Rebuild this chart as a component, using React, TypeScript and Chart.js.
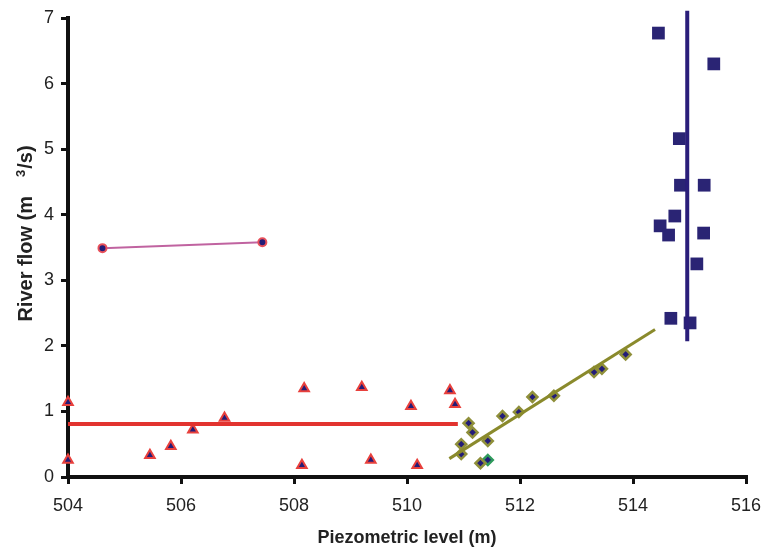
import React, { useEffect, useRef } from "react";
import { Chart, registerables } from "chart.js";

Chart.register(...registerables);

// Triangles (red outline, navy fill)
const triX = [504.0, 504.0, 505.45, 505.82, 506.21, 506.77, 508.18, 508.14, 509.2, 509.36, 510.07, 510.18, 510.76, 510.85];
const triY = [1.14, 0.26, 0.33, 0.47, 0.72, 0.9, 1.35, 0.18, 1.37, 0.26, 1.08, 0.18, 1.32, 1.11];
const triLineX = [504.0, 510.9];
const triLineY = [0.81, 0.81];

// Diamonds (olive outline)
const diaX = [510.96, 510.96, 511.09, 511.16, 511.3, 511.43, 511.69, 511.98, 512.22, 512.6, 513.31, 513.45, 513.87];
const diaY = [0.5, 0.35, 0.82, 0.68, 0.21, 0.55, 0.93, 0.99, 1.22, 1.24, 1.6, 1.65, 1.87];
const greenX = [511.43];
const greenY = [0.26];
const diaLineX = [510.75, 514.39];
const diaLineY = [0.28, 2.25];

// Squares
const sqX = [514.45, 515.43, 514.82, 514.84, 515.26, 514.74, 514.48, 514.63, 515.25, 515.13, 514.67, 515.01];
const sqY = [6.77, 6.3, 5.16, 4.45, 4.45, 3.98, 3.83, 3.69, 3.72, 3.25, 2.42, 2.35];
const sqLineX = [514.96, 514.96];
const sqLineY = [2.07, 7.11];

// Circles
const cirX = [504.61, 507.44];
const cirY = [3.49, 3.58];

const xTicks = [504, 506, 508, 510, 512, 514, 516];
const yTicks = [0, 1, 2, 3, 4, 5, 6, 7];

const yTitleMain = "River flow (m";
const yTitleSup = "3";
const yTitleEnd = "/s)";

const pts = (xs: number[], ys: number[]) => xs.map((x, i) => ({ x, y: ys[i] }));

const yTitlePlugin = {
  id: "yTitle",
  afterDraw(chart: any) {
    const ctx = chart.ctx;
    const area = chart.chartArea;
    ctx.save();
    ctx.fillStyle = "#222";
    ctx.textBaseline = "middle";
    ctx.textAlign = "left";
    const fam = "Liberation Sans, Arial, sans-serif";
    ctx.font = `bold 20px ${fam}`;
    const w1 = ctx.measureText(yTitleMain).width;
    const w3 = ctx.measureText(yTitleEnd).width;
    ctx.font = `bold 13px ${fam}`;
    const w2 = ctx.measureText(yTitleSup).width;
    const gap = 19;
    const total = w1 + gap + w2 + 1 + w3;
    const cy = (area.top + area.bottom) / 2 - 14;
    ctx.translate(26, cy + total / 2);
    ctx.rotate(-Math.PI / 2);
    ctx.font = `bold 20px ${fam}`;
    ctx.fillText(yTitleMain, 0, 0);
    ctx.font = `bold 13px ${fam}`;
    ctx.fillText(yTitleSup, w1 + gap, -5);
    ctx.font = `bold 20px ${fam}`;
    ctx.fillText(yTitleEnd, w1 + gap + w2 + 1, 0);
    ctx.restore();
  },
};

export default function App() {
  const ref = useRef<HTMLCanvasElement>(null);
  useEffect(() => {
    document.body.style.margin = "0";
    const ctx = ref.current!;
    const chart = new Chart(ctx, {
      type: "scatter",
      plugins: [yTitlePlugin],
      data: {
        datasets: [
          {
            type: "line",
            data: pts(triLineX, triLineY),
            borderColor: "#e2332f",
            borderWidth: 4,
            pointRadius: 0,
            showLine: true,
          } as any,
          {
            data: pts(triX, triY),
            pointStyle: "triangle",
            pointRadius: 5.5,
            backgroundColor: "#231c78",
            borderColor: "#e8403c",
            borderWidth: 2,
            clip: false,
          } as any,
          {
            type: "line",
            data: pts(cirX, cirY),
            borderColor: "#c063a0",
            borderWidth: 2,
            pointStyle: "circle",
            pointRadius: 4,
            pointBackgroundColor: "#231c78",
            pointBorderColor: "#e8505a",
            pointBorderWidth: 2,
          } as any,
          {
            type: "line",
            data: pts(diaLineX, diaLineY),
            borderColor: "#8a8a2c",
            borderWidth: 3,
            pointRadius: 0,
          } as any,
          {
            data: pts(diaX, diaY),
            pointStyle: "rectRot",
            pointRadius: 5,
            backgroundColor: "#231c78",
            borderColor: "#8f8f3a",
            borderWidth: 2.5,
          },
          {
            data: pts(greenX, greenY),
            pointStyle: "rectRot",
            pointRadius: 5,
            backgroundColor: "#231c78",
            borderColor: "#2f9a5c",
            borderWidth: 2.5,
          },
          {
            type: "line",
            data: pts(sqLineX, sqLineY),
            borderColor: "#2a1e7a",
            borderWidth: 4,
            pointRadius: 0,
            clip: false,
          } as any,
          {
            data: pts(sqX, sqY),
            pointStyle: "rect",
            pointRadius: 9,
            backgroundColor: "#2a2474",
            borderColor: "#2a2474",
            borderWidth: 0,
          },
          {
            data: pts(sqX, sqY),
            pointStyle: "crossRot",
            pointRadius: 3.5,
            backgroundColor: "#5868c0",
            borderColor: "#5868c0",
            borderWidth: 1.5,
          },
        ],
      },
      options: {
        responsive: false,
        animation: false,
        events: [],
        layout: { padding: { top: 18, right: 0, left: 0, bottom: 0 } },
        plugins: { legend: { display: false }, tooltip: { enabled: false } },
        scales: {
          x: {
            type: "linear",
            min: 504,
            max: 516,
            afterBuildTicks: (s: any) => {
              s.ticks = xTicks.map((v) => ({ value: v }));
            },
            afterFit: (s: any) => {
              s.height = 77;
              s.paddingRight = 15;
              s.paddingLeft = 0;
            },
            ticks: {
              color: "#222",
              font: { family: "Liberation Sans, Arial, sans-serif", size: 18 },
              padding: 11,
            },
            grid: {
              drawOnChartArea: false,
              drawTicks: true,
              tickLength: 7,
              color: "#111",
              lineWidth: 3,
            },
            border: { display: true, color: "#111", width: 4 },
            title: {
              display: true,
              text: "Piezometric level (m)",
              color: "#222",
              font: { family: "Liberation Sans, Arial, sans-serif", size: 18, weight: "bold" },
              padding: { top: 0, bottom: 5 },
            },
          },
          y: {
            type: "linear",
            min: 0,
            max: 7,
            afterBuildTicks: (s: any) => {
              s.ticks = yTicks.map((v) => ({ value: v }));
            },
            afterFit: (s: any) => {
              s.width = 68;
            },
            ticks: {
              color: "#222",
              font: { family: "Liberation Sans, Arial, sans-serif", size: 18 },
              padding: 7,
            },
            grid: {
              drawOnChartArea: false,
              drawTicks: true,
              tickLength: 7,
              color: "#111",
              lineWidth: 3,
            },
            border: { display: true, color: "#111", width: 4 },
            title: { display: false },
          },
        },
      },
    });
    return () => chart.destroy();
  }, []);
  return <canvas ref={ref} width={761} height={554} style={{ display: "block" }} />;
}
